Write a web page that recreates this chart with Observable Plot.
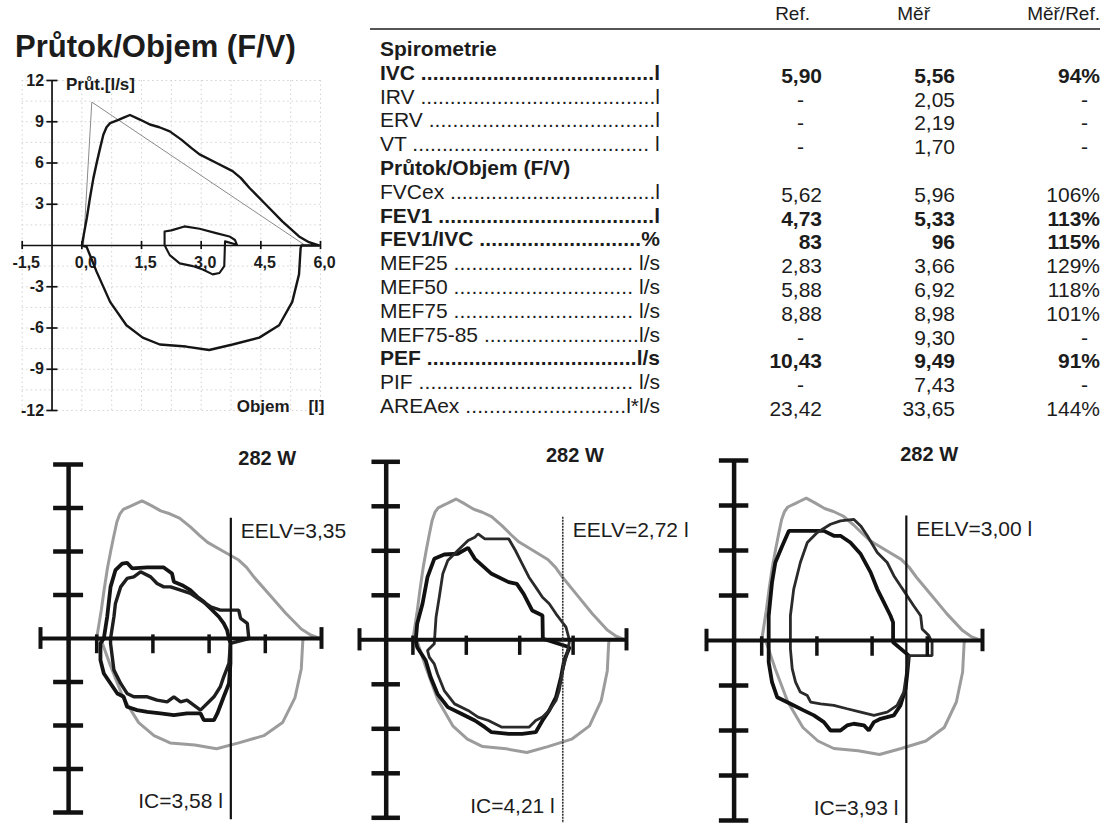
<!DOCTYPE html>
<html><head><meta charset="utf-8">
<script src="https://cdn.jsdelivr.net/npm/d3@7"></script>
<script src="https://cdn.jsdelivr.net/npm/@observablehq/plot@0.6"></script>
<style>
html,body{margin:0;padding:0;background:#fff;}
#root{position:relative;width:1110px;height:823px;overflow:hidden;background:#fff;font-family:"Liberation Sans",Arial,sans-serif;color:#1c1c1c;}
#title{position:absolute;left:15px;top:30px;font-size:31px;font-weight:bold;white-space:nowrap;line-height:34px;}
.cell{position:absolute;white-space:pre;font-size:21px;line-height:23px;height:23px;}
.hdr{position:absolute;white-space:nowrap;font-size:19px;line-height:22px;}
</style></head>
<body><div id="root"><div id="title">Průtok/Objem (F/V)</div></div>
<script>
// ---------- DATA ----------
// top chart ticks
const xTicks = [-1.5, 0, 1.5, 3, 4.5, 6];
const xTickLabels = ["-1,5", "0,0", "1,5", "3,0", "4,5", "6,0"];
const yTicks = [12, 9, 6, 3, -3, -6, -9, -12];
// maximal flow-volume loop (volume l, flow l/s)
const maxExp = [[0,0],[0.03,0.5],[0.125,2.0],[0.2,3.4],[0.29,4.9],[0.38,6.1],[0.46,7.1],[0.54,8.05],[0.62,8.6],[0.71,8.9],[0.92,9.14],[1.05,9.3],[1.21,9.49],[1.46,9.16],[1.71,8.8],[1.95,8.6],[2.21,8.3],[2.5,7.7],[2.75,7.1],[2.96,6.63],[3.375,6.02],[3.79,5.41],[4.0,4.9],[4.21,4.2],[4.625,2.98],[5.04,1.76],[5.46,0.66],[5.71,0.24],[5.96,0]];
const maxInsp = [[5.52,0],[5.5,-0.2],[5.46,-2.1],[5.29,-4.1],[4.96,-5.8],[4.46,-6.7],[3.79,-7.2],[3.2,-7.6],[2.62,-7.35],[1.96,-7.2],[1.53,-6.7],[1.12,-5.8],[0.71,-4.1],[0.37,-1.9],[0.12,-0.1],[0,0]];
// predicted (reference) outline: start, PEF ref, FVC ref
const predicted = [[0.04,0],[0.25,10.43],[5.62,0]];
// resting tidal loop
const tidalLoop = [[2.08,0.05],[2.08,1.02],[2.25,1.1],[2.58,1.39],[2.96,1.22],[3.375,0.9],[3.71,0.66],[3.85,0.4],[3.9,0.05],[3.6,0.3],[3.58,-1.5],[3.46,-2.0],[3.29,-2.1],[3.04,-1.75],[2.79,-1.5],[2.46,-1.3],[2.21,-0.7],[2.12,-0.2],[2.08,0.05]];

// table
const tableHeaders = ["Ref.", "Měř", "Měř/Ref."];
const rowNames = ["Spirometrie","IVC","IRV","ERV","VT","Průtok/Objem (F/V)","FVCex","FEV1","FEV1/IVC","MEF25","MEF50","MEF75","MEF75-85","PEF","PIF","AREAex"];
const rowUnits = [null,"l","l","l"," l",null,"l","l","%"," l/s"," l/s"," l/s","l/s","l/s"," l/s","l*l/s"];
const refValues = [null,"5,90","-","-","-",null,"5,62","4,73","83","2,83","5,88","8,88","-","10,43","-","23,42"];
const measValues = [null,"5,56","2,05","2,19","1,70",null,"5,96","5,33","96","3,66","6,92","8,98","9,30","9,49","7,43","33,65"];
const pctValues = [null,"94%","-","-","-",null,"106%","113%","115%","129%","118%","101%","-","91%","-","144%"];
const boldRows = [true,true,false,false,false,true,false,true,true,false,false,false,false,true,false,false];

// exercise panels
const panelTitles = ["282 W", "282 W", "282 W"];
const icValues = [3.58, 4.21, 3.93];
const eelvLabels = ["EELV=3,35", "EELV=2,72 l", "EELV=3,00 l"];
const icLabels = ["IC=3,58 l", "IC=4,21 l", "IC=3,93 l"];
const p1LoopA = [[0.19,0],[0.28,1.50],[0.37,3.56],[0.50,4.71],[0.68,5.17],[0.81,5.22],[0.95,4.83],[1.35,4.90],[1.79,4.90],[2.01,4.48],[2.06,3.91],[2.28,3.68],[2.50,3.33],[2.68,2.88],[2.86,2.53],[3.04,2.07],[3.26,1.50],[3.39,1.04],[3.48,0.58],[3.53,0],[3.57,-0.34],[3.57,-1.72],[3.53,-3.10],[3.39,-4.02],[3.22,-5.17],[3.13,-5.63],[2.86,-5.63],[2.77,-5.17],[2.41,-5.17],[2.06,-5.29],[1.70,-5.17],[1.35,-5.06],[1.08,-4.94],[0.81,-4.71],[0.72,-4.02],[0.55,-3.79],[0.37,-3.10],[0.19,-2.41],[0.10,-1.49],[0.10,-0.34],[0.19,0]];
const p1LoopB = [[0.37,0],[0.46,1.50],[0.50,2.42],[0.64,3.56],[0.81,4.14],[0.99,4.25],[1.17,4.60],[1.44,4.25],[1.61,3.79],[1.79,3.56],[1.97,3.56],[2.24,3.33],[2.50,3.11],[2.77,2.65],[3.04,2.19],[3.30,1.96],[3.48,1.96],[3.79,1.96],[3.84,1.38],[4.02,1.04],[4.06,0],[3.57,-0.34],[3.53,-1.72],[3.39,-2.64],[3.30,-3.33],[3.13,-4.02],[2.77,-4.94],[2.59,-4.60],[2.41,-4.25],[2.24,-4.37],[2.06,-4.02],[1.88,-4.37],[1.61,-4.25],[1.35,-4.02],[0.99,-4.02],[0.81,-3.79],[0.64,-3.10],[0.46,-2.18],[0.37,-0.34],[0.37,0]];
const p2LoopA = [[0.08,-0.05],[0.12,1.08],[0.27,2.43],[0.41,4.22],[0.60,5.46],[0.88,5.75],[1.26,5.80],[1.55,6.20],[1.74,5.46],[2.21,4.45],[2.69,3.89],[2.92,3.77],[3.11,3.10],[3.35,1.98],[3.64,1.64],[3.65,0.07],[4.40,-0.50],[4.25,-1.39],[4.16,-2.52],[4.02,-3.87],[3.83,-4.76],[3.64,-5.44],[3.45,-6.23],[3.07,-6.34],[2.69,-6.34],[2.21,-6.23],[2.02,-5.89],[1.74,-5.44],[1.36,-4.99],[0.98,-4.54],[0.69,-3.64],[0.50,-2.52],[0.36,-1.39],[0.12,-0.50],[0.08,-0.05]];
const p2LoopB = [[0.60,-0.27],[0.65,1.53],[0.74,2.87],[0.84,4.45],[0.98,5.35],[1.26,6.02],[1.55,6.70],[1.74,6.92],[1.83,7.14],[2.02,6.81],[2.69,6.81],[2.88,6.02],[3.07,5.12],[3.26,4.22],[3.45,3.55],[3.64,2.87],[3.83,2.43],[4.02,1.75],[4.16,1.30],[4.30,0.85],[4.40,-0.05],[4.35,-0.72],[4.21,-2.07],[4.11,-3.42],[4.02,-4.09],[3.83,-4.76],[3.64,-5.21],[3.45,-5.44],[3.26,-5.89],[2.50,-5.89],[2.12,-5.44],[1.83,-5.21],[1.55,-4.76],[1.17,-4.32],[0.88,-3.42],[0.69,-2.29],[0.60,-1.62],[0.46,-1.17],[0.41,-0.72],[0.60,-0.27]];
const p3LoopA = [[0.19,-0.12],[0.19,1.65],[0.28,3.87],[0.37,5.20],[0.56,6.31],[0.74,7.31],[1.69,7.31],[1.96,6.98],[2.14,6.98],[2.41,6.53],[2.69,5.76],[2.96,4.54],[3.14,3.43],[3.32,2.54],[3.50,1.65],[3.57,1.21],[3.57,-0.12],[4.00,-1.01],[3.95,-2.34],[3.91,-3.22],[3.77,-4.33],[3.59,-4.99],[3.23,-5.22],[3.05,-5.44],[2.91,-6.00],[2.78,-5.66],[2.50,-5.55],[2.32,-5.66],[2.14,-6.00],[1.87,-6.00],[1.69,-5.44],[1.42,-4.99],[1.14,-4.66],[0.78,-4.22],[0.42,-3.78],[0.28,-2.78],[0.19,-1.45],[0.19,-0.12]];
const p3LoopB = [[0.78,-0.56],[0.78,1.65],[0.87,3.43],[1.05,5.20],[1.24,6.53],[1.51,7.20],[1.87,7.75],[2.14,7.97],[2.50,8.08],[2.69,7.64],[2.87,6.98],[3.14,5.87],[3.41,5.20],[3.59,4.32],[3.77,3.65],[3.95,2.99],[4.13,2.32],[4.32,1.65],[4.36,0.77],[4.54,0.33],[4.63,-0.12],[4.63,-1.01],[4.00,-1.01],[3.95,-1.89],[3.86,-3.44],[3.68,-4.33],[3.41,-4.77],[3.05,-4.99],[2.69,-4.77],[2.32,-4.55],[1.96,-4.33],[1.60,-4.22],[1.33,-4.11],[1.24,-3.67],[1.05,-3.44],[0.92,-2.78],[0.83,-1.89],[0.78,-0.56]];
const bottomYTicks = [12, 9, 6, 3, -3, -6, -9, -12];
const bottomXTicks = [0, 1.5, 3, 4.5];

// ---------- RENDER ----------
const root = document.getElementById("root");
const FONT = "Liberation Sans, Arial, sans-serif";
const pt = a => a.map(([v, f]) => ({v, f}));
const maxLoop = pt(maxExp.concat(maxInsp));

function put(el, left, top) {
  el.style.position = "absolute";
  el.style.left = left + "px";
  el.style.top = top + "px";
  root.appendChild(el);
}

// top flow-volume chart
const topChart = Plot.plot({
  width: 350, height: 430,
  marginLeft: 21.7, marginRight: 30, marginTop: 80, marginBottom: 20,
  x: {domain: [-1.5, 6], axis: null},
  y: {domain: [-12, 12], axis: null},
  style: {background: "transparent", overflow: "visible", fontFamily: FONT},
  marks: [
    Plot.ruleX(d3.range(-1.5, 6.01, 0.75), {y1: -12, y2: 12, stroke: "#d2d2d2", strokeDasharray: "1.5,3"}),
    Plot.ruleY(d3.range(-12, 12.01, 1.5), {x1: -1.5, x2: 6, stroke: "#d2d2d2", strokeDasharray: "1.5,3"}),
    Plot.ruleY([0], {x1: -1.5, x2: 6, stroke: "#111", strokeWidth: 1.7}),
    Plot.ruleX([-0.75], {y1: -12, y2: 12, stroke: "#111", strokeWidth: 1.7}),
    Plot.ruleY(yTicks, {x1: -0.88, x2: -0.6, stroke: "#111", strokeWidth: 1.7}),
    Plot.ruleX(xTicks, {y1: -0.3, y2: 0.3, stroke: "#111", strokeWidth: 1.7}),
    Plot.text(yTicks, {x: -0.75, y: d => d, text: d => String(d), dx: -8, textAnchor: "end", fontWeight: "bold", fontSize: 16, fill: "#1c1c1c"}),
    Plot.text(xTicks, {x: d => d, y: 0, text: (d, i) => xTickLabels[i], dx: 4, dy: 17, fontWeight: "bold", fontSize: 16, fill: "#1c1c1c"}),
    Plot.line(pt(predicted), {x: "v", y: "f", stroke: "#8a8a8a", strokeWidth: 1}),
    Plot.line(maxLoop, {x: "v", y: "f", stroke: "#151515", strokeWidth: 2.4}),
    Plot.line(pt(tidalLoop), {x: "v", y: "f", stroke: "#151515", strokeWidth: 2.1}),
    Plot.text(["Průt.[l/s]"], {x: -0.75, y: 12, text: d => d, dx: 14, dy: 4, textAnchor: "start", fontWeight: "bold", fontSize: 17, fill: "#1c1c1c"}),
    Plot.text(["Objem\u00a0\u00a0\u00a0\u00a0[l]"], {x: 6, y: -12, text: d => d, dx: 4, dy: -4, textAnchor: "end", fontWeight: "bold", fontSize: 17, fill: "#1c1c1c"})
  ]
});
put(topChart, 0, 0);

// table header
tableHeaders.forEach((h, i) => {
  const d = document.createElement("div");
  d.className = "hdr";
  d.textContent = h;
  const right = [810, 930, 1100][i];
  d.style.width = "100px";
  d.style.textAlign = "right";
  put(d, right - 100, 3);
});
const line = document.createElement("div");
line.style.width = "730px"; line.style.height = "2px"; line.style.background = "#555";
put(line, 370, 28);

const ctx = document.createElement("canvas").getContext("2d");
function textWidth(s, weight) {
  ctx.font = `${weight} 21px "Liberation Sans", Arial, sans-serif`;
  return ctx.measureText(s).width;
}
const labelWidth = 280;

rowNames.forEach((name, i) => {
  const top = 37 + i * 23.8;
  const bold = boldRows[i] ? "bold" : "normal";
  const lab = document.createElement("div");
  lab.className = "cell";
  lab.style.fontWeight = bold;
  if (rowUnits[i]) {
    const head = name + " ";
    const avail = labelWidth - textWidth(head, bold) - textWidth(rowUnits[i], bold);
    const dotW = textWidth(".", bold);
    const n = Math.max(1, Math.floor(avail / dotW));
    const rest = avail - n * dotW;
    const s1 = document.createElement("span"); s1.textContent = head;
    const s2 = document.createElement("span"); s2.textContent = ".".repeat(n);
    s2.style.letterSpacing = (rest / n).toFixed(3) + "px";
    const s3 = document.createElement("span"); s3.textContent = rowUnits[i];
    lab.append(s1, s2, s3);
  } else {
    lab.textContent = name;
  }
  put(lab, 380, top);
  const cols = [refValues[i], measValues[i], pctValues[i]];
  const rights = [822, 955, 1100];
  const dashPad = [18, 0, 12];
  cols.forEach((val, j) => {
    if (val == null) return;
    const c = document.createElement("div");
    c.className = "cell";
    c.style.fontWeight = bold;
    c.style.width = "80px";
    c.style.textAlign = "right";
    c.style.paddingRight = (val === "-" ? dashPad[j] : 0) + "px";
    c.style.boxSizing = "border-box";
    c.textContent = val;
    put(c, rights[j] - 80, top + 3);
  });
});

// bottom exercise panels
const panelFrames = [
  {left: 0, width: 345, x0: 40, x1: 321, yTop: 464, yBot: 812},
  {left: 345, width: 355, x0: 359, x1: 626, yTop: 461.3, yBot: 817.3},
  {left: 690, width: 420, x0: 706, x1: 982, yTop: 460, yBot: 820}
];
const panelLoops = [[p1LoopA, p1LoopB], [p2LoopA, p2LoopB], [p3LoopA, p3LoopB]];
const loopStyles = [[{w: 3.8, c: "#141414"}, {w: 3.4, c: "#1e1e1e"}], [{w: 3.8, c: "#111"}, {w: 2.8, c: "#2a2a2a"}], [{w: 3.8, c: "#111"}, {w: 2.8, c: "#2a2a2a"}]];

panelFrames.forEach((fr, k) => {
  const svg = Plot.plot({
    width: fr.width, height: 393,
    marginLeft: fr.x0 - fr.left, marginRight: fr.left + fr.width - fr.x1,
    marginTop: fr.yTop - 430, marginBottom: 823 - fr.yBot,
    x: {domain: [-1.5, 6], axis: null},
    y: {domain: [-12, 12], axis: null},
    style: {background: "transparent", overflow: "visible", fontFamily: FONT},
    marks: [
      Plot.line(maxLoop, {x: "v", y: "f", stroke: "#9c9c9c", strokeWidth: 3}),
      Plot.line(pt(panelLoops[k][0]), {x: "v", y: "f", stroke: loopStyles[k][0].c, strokeWidth: loopStyles[k][0].w, strokeLinejoin: "miter"}),
      Plot.line(pt(panelLoops[k][1]), {x: "v", y: "f", stroke: loopStyles[k][1].c, strokeWidth: loopStyles[k][1].w, strokeLinejoin: "miter"}),
      Plot.ruleY([0], {x1: -1.5, x2: 6, stroke: "#111", strokeWidth: 4}),
      Plot.ruleX([-0.75], {y1: -12, y2: 12, stroke: "#111", strokeWidth: 4.5}),
      Plot.ruleY(bottomYTicks, {x1: -1.15, x2: -0.35, stroke: "#111", strokeWidth: 4.5}),
      Plot.ruleX([-1.5, 6], {y1: -0.75, y2: 0.75, stroke: "#111", strokeWidth: 4}),
      Plot.ruleX(bottomXTicks, {y1: -1.05, y2: 0.25, stroke: "#111", strokeWidth: 3.5}),
      Plot.ruleX([icValues[k]], {y1: -12.5, y2: 8.3, stroke: k === 1 ? "#333" : "#111", strokeWidth: k === 1 ? 1.6 : 2.2, strokeDasharray: k === 1 ? "2,1" : null}),
      Plot.text([panelTitles[k]], {x: 4.55, y: 12.4, text: d => d, fontWeight: "bold", fontSize: 20, fill: "#1c1c1c"}),
      Plot.text([eelvLabels[k]], {x: icValues[k], y: 7.4, text: d => d, dx: 10, textAnchor: "start", fontSize: 21, fill: "#1c1c1c"}),
      Plot.text([icLabels[k]], {x: icValues[k], y: -11.2, text: d => d, dx: -8, textAnchor: "end", fontSize: 21, fill: "#1c1c1c"})
    ]
  });
  put(svg, fr.left, 430);
});
</script></body></html>
